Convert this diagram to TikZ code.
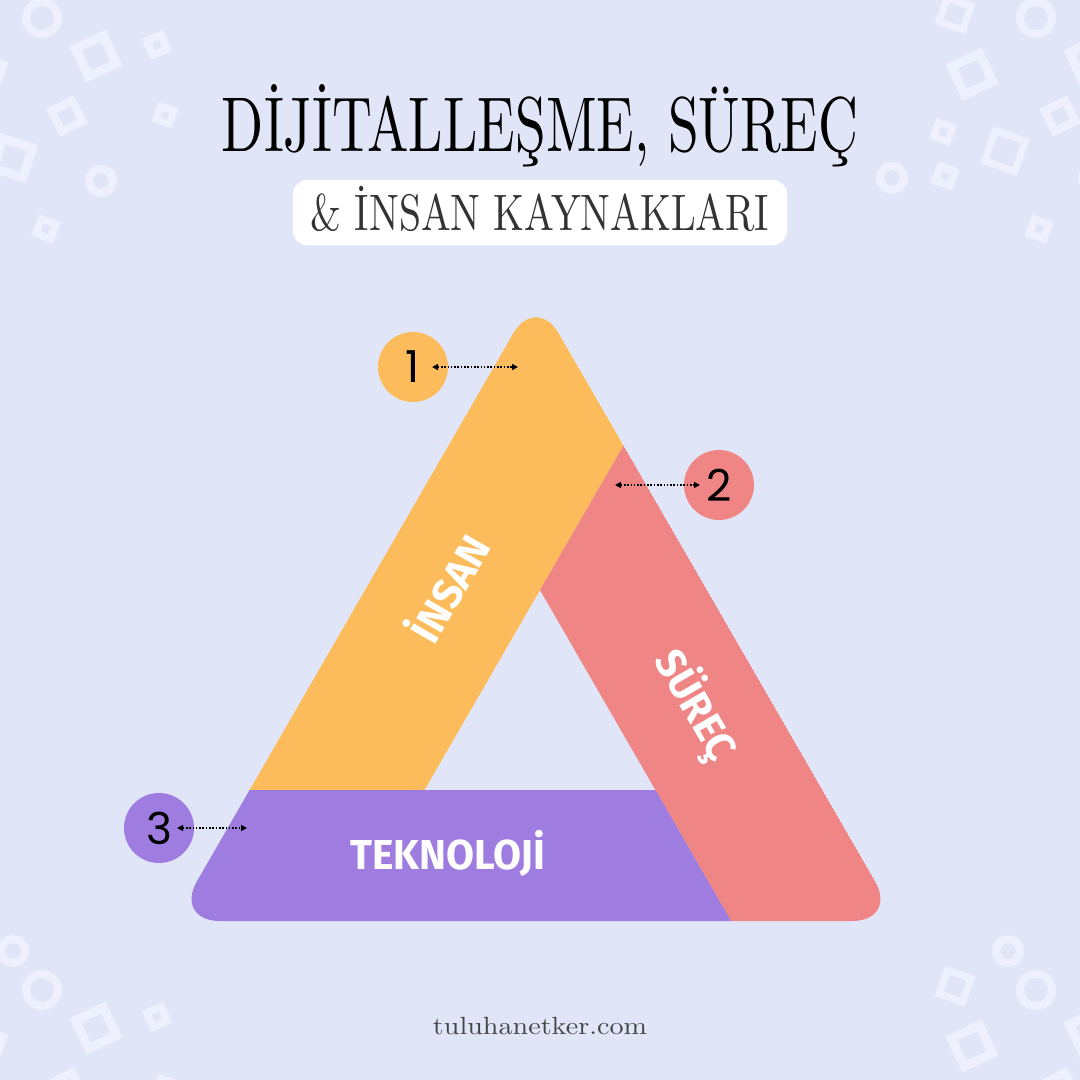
\documentclass[tikz,border=0pt]{standalone}
\usepackage{fontspec}
\usepackage{graphicx}
\usetikzlibrary{arrows.meta}
\newfontfamily\labfont{Fira Sans}
\newfontfamily\numfont{Poppins}
\definecolor{bgc}{RGB}{224,230,248}
\definecolor{decoc}{RGB}{238,241,253}
\definecolor{yel}{RGB}{253,188,92}
\definecolor{pnk}{RGB}{239,133,133}
\definecolor{prp}{RGB}{158,124,224}
\definecolor{subc}{RGB}{51,51,51}
\definecolor{webc}{RGB}{68,68,68}
% rotated square outline: cx, cy, side, line width, angle
\newcommand\dsq[5]{\draw[deco,line width=#4pt,rotate around={#5:(#1,#2)}] ({#1-#3/2},{#2-#3/2}) rectangle ({#1+#3/2},{#2+#3/2});}
% ring: cx, cy, radius, line width
\newcommand\drg[4]{\draw[deco,line width=#4pt] (#1,#2) circle[radius=#3pt];}
% text fitted to a width and a cap height
\newcommand\fitcap[5]{\resizebox{#1}{#2}{#3\raisebox{0pt}[\fontcharht\font`#4][0pt]{#5}}}
\begin{document}
\begin{tikzpicture}[x=1pt,y=-1pt,
  deco/.style={draw=decoc},
  numc/.style={circle,minimum size=70pt,inner sep=0pt,text=black,font=\numfont\fontsize{44}{44}\selectfont},
  dotarr/.style={{Triangle[length=6pt,width=6pt]}-{Triangle[length=6pt,width=6pt]},line width=1.8pt,dash pattern=on 1.6pt off 1.7pt,draw=black},
  lab/.style={inner sep=0pt,text=white},
  plain/.style={inner sep=0pt}]
\useasboundingbox (0,0) rectangle (1080,1080);
\fill[bgc] (0,0) rectangle (1080,1080);
% decorations
\begin{scope}
\clip (0,0) rectangle (1080,1080);
\foreach \dy in {0,972}{
\begin{scope}[shift={(0,\dy)}]
 \drg{42}{18}{16}{8}
 \drg{13}{-21}{12}{8}
 \dsq{96}{56}{31}{9}{25}
 \dsq{157}{45}{15.5}{7.5}{23}
 \dsq{67}{116}{23}{8}{27}
 \dsq{13}{158}{31}{9}{-17}
 \dsq{165}{115}{14}{7}{-19}
 \drg{101}{181}{12}{8}
 \dsq{46}{229}{15.5}{7.5}{-21}
 \dsq{-12}{72}{25}{7}{-20}
 \dsq{955}{14}{25}{7}{-19}
 \drg{1036}{18}{16}{8}
 \dsq{972}{74}{31}{9}{25}
 \dsq{1090}{60}{31}{9}{25}
 \dsq{943}{132}{15}{7}{-21}
 \dsq{1005}{151}{32}{7}{-19}
 \dsq{1060}{116}{23}{8}{26}
 \drg{892}{178}{12}{8}
 \dsq{945}{176}{15.5}{7.5}{-20}
 \dsq{1039}{229}{15.5}{7.5}{-20}
 \drg{1008}{-21}{12}{8}
 \drg{1094}{178}{12}{8}
\end{scope}}
\end{scope}
% title
\node[plain] (title) at (540,124.5) {\fitcap{636pt}{53pt}{}{H}{DİJİTALLEŞME, SÜREÇ}};
\node[fill=white,rounded corners=14pt,minimum width=494pt,minimum height=65pt,inner sep=0pt,text=subc] (sub) at (540,212.5) {\fitcap{458pt}{35pt}{}{H}{\& İNSAN KAYNAKLARI}};
% triangle bands
\begin{scope}
\clip[rounded corners=46pt] (536,921) -- (898,921) -- (536,294) -- (174,921) -- cycle;
\fill[yel] (249.6,790) -- (536,294) -- (623.5,445.5) -- (424.5,790) -- cycle;
\fill[pnk] (623.5,445.5) -- (898,921) -- (731,921) -- (540,590) -- cycle;
\fill[prp] (249.6,790) -- (655.5,790) -- (731,921) -- (174,921) -- cycle;
\end{scope}
% band labels
\node[lab,rotate=60] (insan) at (451,589) {\fitcap{115pt}{29pt}{\labfont\bfseries}{T}{İNSAN}};
\node[lab,rotate=-60] (surec) at (696,705) {\fitcap{120pt}{29pt}{\labfont\bfseries}{T}{SÜREÇ}};
\node[lab] (tekno) at (448,854.5) {\fitcap{195pt}{29pt}{\labfont\bfseries}{T}{TEKNOLOJİ}};
% number circles
\node[numc,fill=yel] (n1) at (413,367) {1};
\node[numc,fill=pnk] (n2) at (719,485) {2};
\node[numc,fill=prp] (n3) at (159,828) {3};
\coordinate (t1) at (518,367);
\coordinate (t2) at (615,485);
\coordinate (t3) at (247,828);
\draw[dotarr] ([xshift=19pt]n1.center) -- (t1);
\draw[dotarr] (t2) -- ([xshift=-19pt]n2.center);
\draw[dotarr] ([xshift=18pt]n3.center) -- (t3);
% footer
\node[plain,text=webc] (web) at (540,1025.5) {\fitcap{214pt}{17pt}{}{l}{tuluhanetker.com}};
\end{tikzpicture}
\end{document}
